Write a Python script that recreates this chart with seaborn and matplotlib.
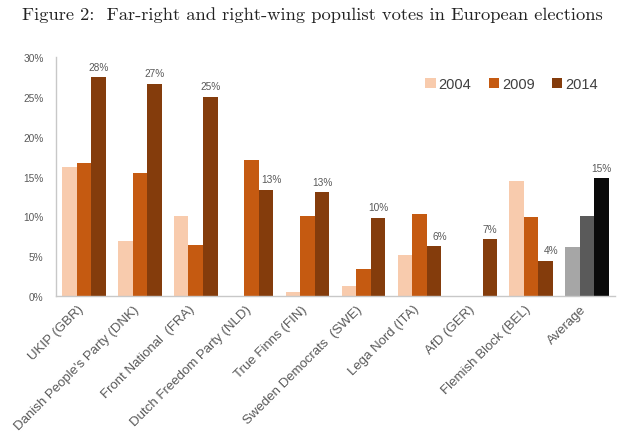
import numpy as np
import pandas as pd
import seaborn as sns
import matplotlib.pyplot as plt
import matplotlib.transforms as mtransforms
from matplotlib.patches import Patch

parties = ["UKIP (GBR)", "Danish People's Party (DNK)", "Front National  (FRA)",
           "Dutch Freedom Party (NLD)", "True Finns (FIN)", "Sweden Democrats  (SWE)",
           "Lega Nord (ITA)", "AfD (GER)", "Flemish Block (BEL)", "Average"]
years = ["2004", "2009", "2014"]
v2004 = [16.2, 6.9, 10.0, np.nan, 0.5, 1.2, 5.1, np.nan, 14.4, 6.1]
v2009 = [16.7, 15.4, 6.4, 17.1, 10.0, 3.4, 10.3, np.nan, 9.9, 10.0]
v2014 = [27.5, 26.7, 25.0, 13.3, 13.0, 9.8, 6.2, 7.1, 4.4, 14.8]
labels2014 = ["28%", "27%", "25%", "13%", "13%", "10%", "6%", "7%", "4%", "15%"]
yticks = [0, 5, 10, 15, 20, 25, 30]
title = "Figure 2:  Far-right and right-wing populist votes in European elections"

orange_pal = ["#f8cbad", "#c55a11", "#843c0c"]
gray_pal = ["#a6a6a6", "#5a5a5a", "#0a0a0a"]
txt_col = "#595959"

rows = []
for y, vals in zip(years, [v2004, v2009, v2014]):
    for p, v in zip(parties, vals):
        rows.append({"party": p, "year": y, "value": v})
df = pd.DataFrame(rows).dropna()

sns.set_style("white")
plt.rcParams["font.family"] = ["Liberation Sans", "DejaVu Sans"]

fig = plt.figure(figsize=(6.24, 4.39), dpi=100)
ax = fig.add_axes([56 / 624, 1 - 296.7 / 439, 559 / 624, (296.7 - 58.3) / 439])

main = df[df.party != "Average"]
avg = df[df.party == "Average"]
sns.barplot(data=main, x="party", y="value", hue="year", order=parties,
            hue_order=years, palette=orange_pal, width=0.78, errorbar=None,
            saturation=1, ax=ax, legend=False, linewidth=0)
sns.barplot(data=avg, x="party", y="value", hue="year", order=parties,
            hue_order=years, palette=gray_pal, width=0.78, errorbar=None,
            saturation=1, ax=ax, legend=False, linewidth=0)

# value labels above 2014 bars
bars14 = list(ax.containers[2]) + list(ax.containers[5])
for i, (bar, lab) in enumerate(zip(bars14, labels2014)):
    v09 = v2009[i]
    dx = 4 if (not np.isnan(v09) and v09 > v2014[i]) else 0
    ax.annotate(lab, (bar.get_x() + bar.get_width() / 2, bar.get_height()),
                xytext=(dx, 4), textcoords="offset points", ha="center",
                va="bottom", fontsize=7.3, color=txt_col)

ax.set_ylim(0, 30)
ax.set_xlim(-0.5, len(parties) - 0.5)
ax.set_yticks(yticks)
ax.set_yticklabels([f"{t}%" for t in yticks], fontsize=7.3, color=txt_col)
ax.set_xticks(range(len(parties)))
ax.set_xticklabels(parties, rotation=45, ha="right", rotation_mode="anchor",
                   fontsize=9.5, color=txt_col)
ax.tick_params(axis="both", length=0)
ax.tick_params(axis="y", pad=9)
ax.tick_params(axis="x", pad=5)
shift = mtransforms.ScaledTranslation(-7 / 100, 0, fig.dpi_scale_trans)
for lab in ax.get_xticklabels():
    lab.set_transform(lab.get_transform() + shift)
ax.set_xlabel("")
ax.set_ylabel("")
for s in ["top", "right"]:
    ax.spines[s].set_visible(False)
for s in ["left", "bottom"]:
    ax.spines[s].set_color("#c8c8c8")
    ax.spines[s].set_linewidth(1.0)

handles = [Patch(facecolor=c, edgecolor="none") for c in orange_pal]
ax.legend(handles, years, loc="center", bbox_to_anchor=(0.815, 0.888),
          ncol=3, frameon=False, fontsize=10.5, handlelength=0.7,
          handleheight=0.7, handletextpad=0.2, columnspacing=1.2,
          labelcolor="#404040")

fig.text(22 / 624, 1 - 15 / 439, title, ha="left", va="center",
         fontsize=13.3, family="cmr10", color="#222222")

fig.savefig("out.png", dpi=100)
